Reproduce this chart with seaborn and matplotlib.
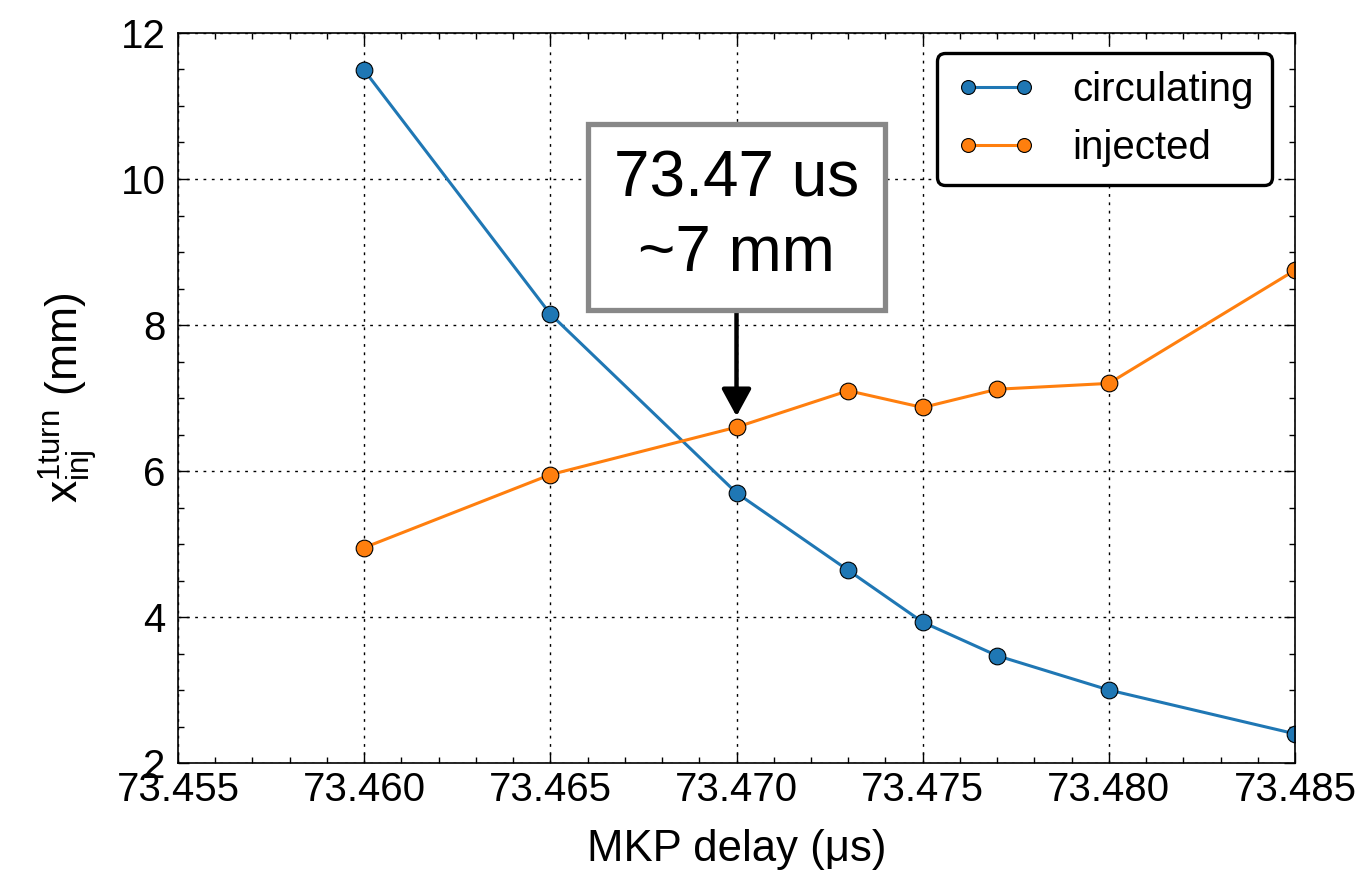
import matplotlib
matplotlib.use("Agg")
import matplotlib.pyplot as plt
import seaborn as sns
import pandas as pd
from matplotlib.ticker import MultipleLocator, FormatStrFormatter
from matplotlib.lines import Line2D

delay = [73.460, 73.465, 73.470, 73.473, 73.475, 73.477, 73.480, 73.485]
circulating = [11.49, 8.15, 5.70, 4.64, 3.93, 3.47, 3.00, 2.40]
injected = [4.95, 5.95, 6.60, 7.10, 6.87, 7.12, 7.20, 8.75]
series_names = ["circulating", "injected"]
colors = ["#1f77b4", "#ff7f0e"]

sns.set_style("ticks")
plt.rcParams["font.family"] = ["Liberation Sans", "DejaVu Sans"]
plt.rcParams["mathtext.default"] = "regular"
plt.rcParams["text.color"] = "black"
plt.rcParams["axes.labelcolor"] = "black"

df = pd.DataFrame({
    "delay": delay * 2,
    "value": circulating + injected,
    "series": [series_names[0]] * len(delay) + [series_names[1]] * len(delay),
})

fig = plt.figure(figsize=(13.61, 8.73), dpi=100)
ax = fig.add_axes([0.1308, 0.126, 0.8207, 0.8362])

sns.lineplot(data=df, x="delay", y="value", hue="series", palette=colors,
             marker="o", markersize=12, markeredgecolor="black",
             markeredgewidth=0.8, linewidth=2.2, ax=ax, legend=False)

ax.set_xlim(73.455, 73.485)
ax.set_ylim(2, 12)
ax.xaxis.set_major_locator(MultipleLocator(0.005))
ax.xaxis.set_minor_locator(MultipleLocator(0.001))
ax.yaxis.set_major_locator(MultipleLocator(2))
ax.yaxis.set_minor_locator(MultipleLocator(0.5))
ax.xaxis.set_major_formatter(FormatStrFormatter("%.3f"))
ax.yaxis.set_major_formatter(FormatStrFormatter("%d"))
ax.tick_params(which="both", direction="in", top=True, right=True, colors="black")
ax.tick_params(which="major", length=8, width=1, labelsize=29, pad=6)
ax.tick_params(axis="y", which="major", pad=9)
ax.tick_params(which="minor", length=4, width=1)
ax.grid(True, which="major", color="black", linestyle=(0, (2, 4)), linewidth=1)
for s in ax.spines.values():
    s.set_color("black")
    s.set_linewidth(1.2)

ax.set_xlabel("MKP delay (μs)", fontsize=31.5, labelpad=14)
ax.set_ylabel(r"$x_{inj}^{1turn}$ (mm)", fontsize=32, labelpad=15)

handles = [Line2D([0], [0], color=c, marker="o", markersize=10,
                  markeredgecolor="black", markeredgewidth=0.8, linewidth=2.2)
           for c in colors]
leg = ax.legend(handles, series_names, loc="upper right", fontsize=29,
                numpoints=2, fancybox=True, framealpha=1, handlelength=2.0,
                handletextpad=0.9, borderpad=0.45, labelspacing=0.5,
                borderaxespad=0, bbox_to_anchor=(0.9794, 0.9726))
leg.get_frame().set_edgecolor("black")
leg.get_frame().set_linewidth(2.4)

ax.annotate("73.47 us\n~7 mm", xy=(73.470, 6.75), xytext=(73.470, 9.48),
            ha="center", va="center", fontsize=46, linespacing=1.3,
            bbox=dict(boxstyle="square,pad=0.4", fc="white", ec="#888888", lw=3.8),
            arrowprops=dict(arrowstyle="-|>,head_width=0.36,head_length=0.66",
                            color="black", lw=3.2,
                            mutation_scale=25, shrinkA=0, shrinkB=0))

fig.savefig("out.png", dpi=100)
